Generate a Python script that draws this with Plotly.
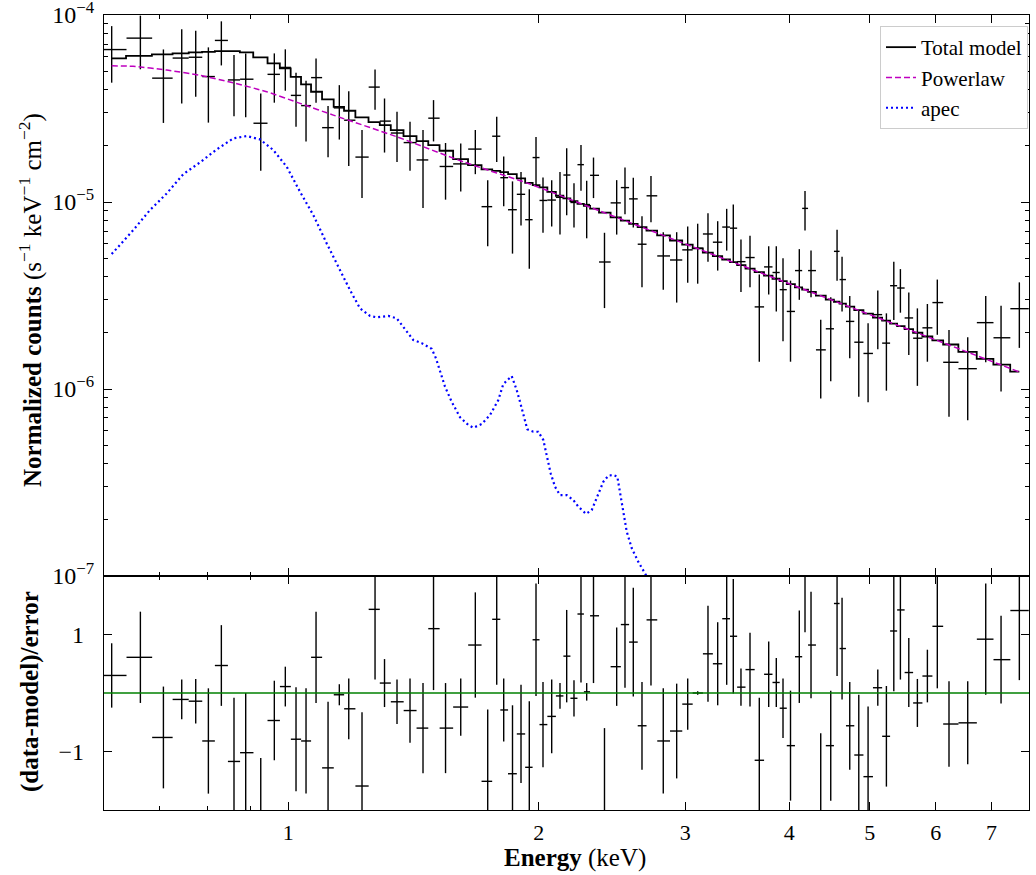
import math
import plotly.graph_objects as go
from plotly.subplots import make_subplots

# ---------------- data ----------------
energy = [0.6133, 0.6640, 0.7077, 0.7445, 0.7739, 0.8015, 0.8308, 0.8604, 0.8887, 0.9265,
          0.9620, 0.9917, 1.0215, 1.0502, 1.0797, 1.1162, 1.1516, 1.1820, 1.2262, 1.2712,
          1.3050, 1.3509, 1.4004, 1.4517, 1.4946, 1.5451, 1.6115, 1.6779, 1.7364, 1.7802,
          1.8150, 1.8597, 1.9040, 1.9482, 1.9847, 2.0235, 2.0728, 2.1209, 2.1606, 2.2047,
          2.2478, 2.2835, 2.3270, 2.3989, 2.4812, 2.5389, 2.5979, 2.6612, 2.7283, 2.8227,
          2.9293, 3.0201, 3.1047, 3.1945, 3.2815, 3.3643, 3.4263, 3.4999, 3.5884, 3.6820,
          3.7791, 3.8594, 3.9317, 4.0142, 4.1132, 4.1786, 4.2487, 4.3644, 4.4870, 4.5661,
          4.6296, 4.7294, 4.8490, 4.9755, 5.1110, 5.2342, 5.3425, 5.4410, 5.5689, 5.7030,
          5.8630, 6.0262, 6.2244, 6.5554, 6.8904, 7.1888, 7.5622]

bin_edges = [0.587, 0.639, 0.686, 0.726, 0.759, 0.788, 0.816, 0.846, 0.875, 0.908,
             0.944, 0.977, 1.007, 1.036, 1.065, 1.098, 1.134, 1.167, 1.204, 1.249,
             1.288, 1.328, 1.376, 1.426, 1.473, 1.520, 1.578, 1.645, 1.707, 1.758,
             1.798, 1.837, 1.882, 1.926, 1.966, 2.004, 2.048, 2.097, 2.141, 2.183,
             2.226, 2.266, 2.305, 2.363, 2.440, 2.510, 2.568, 2.630, 2.695, 2.776,
             2.876, 2.975, 3.062, 3.150, 3.238, 3.323, 3.395, 3.463, 3.544, 3.635,
             3.731, 3.819, 3.896, 3.973, 4.064, 4.146, 4.214, 4.307, 4.426, 4.527,
             4.598, 4.680, 4.789, 4.912, 5.043, 5.173, 5.288, 5.392, 5.505, 5.636,
             5.783, 5.945, 6.125, 6.390, 6.723, 7.040, 7.376, 7.762]

flux = [6.54e-5, 7.53e-5, 4.60e-5, 5.89e-5, 5.95e-5, 4.69e-5, 7.32e-5, 4.50e-5, 4.54e-5, 2.64e-5,
        4.82e-5, 5.25e-5, 3.72e-5, 3.28e-5, 4.63e-5, 2.50e-5, 3.19e-5, 2.74e-5, 1.74e-5, 4.12e-5,
        2.71e-5, 2.34e-5, 2.08e-5, 1.68e-5, 2.81e-5, 1.55e-5, 1.60e-5, 1.92e-5, 0.945e-5, 2.25e-5,
        1.35e-5, 0.91e-5, 1.10e-5, 0.805e-5, 1.73e-5, 1.02e-5, 1.025e-5, 1.06e-5, 1.395e-5, 0.995e-5,
        1.585e-5, 0.97e-5, 1.39e-5, 0.478e-5, 0.99e-5, 1.195e-5, 1.04e-5, 0.595e-5, 1.08e-5, 0.515e-5,
        0.49e-5, 0.555e-5, 0.566e-5, 0.675e-5, 0.61e-5, 0.735e-5, 0.725e-5, 0.48e-5, 0.505e-5, 0.275e-5,
        0.45e-5, 0.42e-5, 0.34e-5, 0.26e-5, 0.43e-5, 0.925e-5, 0.43e-5, 0.162e-5, 0.21e-5, 0.545e-5,
        0.385e-5, 0.23e-5, 0.178e-5, 0.155e-5, 0.25e-5, 0.176e-5, 0.357e-5, 0.347e-5, 0.24e-5, 0.187e-5,
        0.2125e-5, 0.29e-5, 0.139e-5, 0.1285e-5, 0.2265e-5, 0.188e-5, 0.269e-5]

flux_err = [2.19e-5, 2.40e-5, 1.95e-5, 2.52e-5, 2.29e-5, 2.03e-5, 1.94e-5, 1.62e-5, 1.70e-5, 1.17e-5,
            1.42e-5, 1.31e-5, 1.19e-5, 1.17e-5, 1.23e-5, 0.765e-5, 1.03e-5, 1.18e-5, 0.69e-5, 1.0e-5,
            0.87e-5, 0.70e-5, 0.61e-5, 0.75e-5, 0.70e-5, 0.52e-5, 0.46e-5, 0.51e-5, 0.365e-5, 0.61e-5,
            0.40e-5, 0.38e-5, 0.35e-5, 0.365e-5, 0.50e-5, 0.335e-5, 0.285e-5, 0.39e-5, 0.545e-5, 0.265e-5,
            0.435e-5, 0.33e-5, 0.34e-5, 0.207e-5, 0.32e-5, 0.335e-5, 0.31e-5, 0.245e-5, 0.30e-5, 0.175e-5,
            0.20e-5, 0.185e-5, 0.20e-5, 0.195e-5, 0.18e-5, 0.185e-5, 0.245e-5, 0.15e-5, 0.155e-5, 0.135e-5,
            0.13e-5, 0.16e-5, 0.16e-5, 0.12e-5, 0.13e-5, 0.221e-5, 0.12e-5, 0.073e-5, 0.10e-5, 0.165e-5,
            0.125e-5, 0.084e-5, 0.087e-5, 0.07e-5, 0.087e-5, 0.078e-5, 0.123e-5, 0.091e-5, 0.088e-5, 0.083e-5,
            0.0725e-5, 0.095e-5, 0.068e-5, 0.0605e-5, 0.0875e-5, 0.091e-5, 0.103e-5]

model_total = [5.866e-5, 6.058e-5, 6.163e-5, 6.239e-5, 6.316e-5, 6.363e-5, 6.419e-5, 6.419e-5, 6.316e-5, 5.939e-5,
               5.516e-5, 5.188e-5, 4.677e-5, 4.259e-5, 3.890e-5, 3.541e-5, 3.233e-5, 3.078e-5, 2.838e-5, 2.678e-5,
               2.581e-5, 2.427e-5, 2.254e-5, 2.119e-5, 2.017e-5, 1.881e-5, 1.698e-5, 1.577e-5, 1.495e-5, 1.470e-5,
               1.446e-5, 1.411e-5, 1.338e-5, 1.268e-5, 1.233e-5, 1.198e-5, 1.135e-5, 1.081e-5, 1.046e-5, 1.011e-5,
               9.79e-6, 9.53e-6, 9.23e-6, 8.77e-6, 8.28e-6, 7.95e-6, 7.64e-6, 7.34e-6, 7.03e-6, 6.63e-6,
               6.23e-6, 5.92e-6, 5.65e-6, 5.37e-6, 5.14e-6, 4.93e-6, 4.77e-6, 4.60e-6, 4.41e-6, 4.22e-6,
               4.04e-6, 3.89e-6, 3.78e-6, 3.64e-6, 3.50e-6, 3.40e-6, 3.31e-6, 3.16e-6, 3.01e-6, 2.93e-6,
               2.86e-6, 2.76e-6, 2.64e-6, 2.53e-6, 2.41e-6, 2.32e-6, 2.24e-6, 2.17e-6, 2.09e-6, 2.00e-6,
               1.91e-6, 1.82e-6, 1.73e-6, 1.58e-6, 1.45e-6, 1.35e-6, 1.24e-6]

resid = [0.30, 0.61, -0.76, -0.11, -0.14, -0.82, 0.47, -1.17, -1.02, -2.60,
         -0.47, 0.11, -0.79, -0.82, 0.61, -1.28, -0.03, -0.27, -1.59, 1.43,
         0.17, -0.15, -0.30, -0.60, 1.10, -0.60, -0.24, 0.82, -1.51, 1.26,
         -0.29, -1.38, -0.70, -1.27, 0.91, -0.54, -0.40, -0.05, 0.63, -0.09,
         1.35, 0.02, 1.32, -2.07, 0.45, 1.17, 0.87, -0.56, 1.25, -0.82,
         -0.65, -0.19, 0.00, 0.67, 0.50, 1.27, 0.97, 0.10, 0.40, -1.15,
         0.32, 0.18, -0.26, -0.90, 0.62, 2.59, 0.82, -2.14, -0.90, 1.53,
         0.76, -0.56, -1.06, -1.43, 0.09, -0.74, 1.06, 1.42, 0.35, -0.17,
         0.29, 1.14, -0.53, -0.51, 0.92, 0.57, 1.41]

resid_err = [0.55, 0.78, 0.87, 0.34, 0.38, 0.90, 0.69, 1.09, 1.02, 1.49,
             0.68, 0.34, 0.89, 0.90, 0.78, 1.13, 0.18, 0.52, 1.26, 1.20,
             0.41, 0.38, 0.55, 0.77, 1.05, 0.77, 0.49, 0.90, 1.23, 1.12,
             0.54, 1.17, 0.84, 1.13, 0.96, 0.73, 0.63, 0.22, 0.79, 0.31,
             1.17, 0.15, 1.15, 1.47, 0.67, 1.08, 0.93, 0.75, 1.12, 0.90,
             0.81, 0.44, 0.03, 0.82, 0.71, 1.13, 0.98, 0.32, 0.63, 1.07,
             0.56, 0.42, 0.51, 0.94, 0.79, 1.55, 0.91, 1.45, 0.94, 1.24,
             0.87, 0.75, 1.03, 1.20, 0.31, 0.86, 1.03, 1.19, 0.59, 0.41,
             0.45, 1.06, 0.73, 0.71, 0.95, 0.75, 1.19]

pl_energy = [0.6133, 0.6507, 0.7144, 0.7831, 0.8582, 0.9420, 1.0329, 1.1327, 1.3498,
             1.6230, 1.9520, 2.3692, 3.1245, 4.7330, 7.5622]
pl_flux = [5.357e-5, 5.318e-5, 5.080e-5, 4.760e-5, 4.345e-5, 3.890e-5, 3.371e-5, 2.918e-5, 2.235e-5,
           1.642e-5, 1.248e-5, 8.953e-6, 5.572e-6, 2.745e-6, 1.234e-6]

apec_energy = [0.6133, 0.6512, 0.6818, 0.7144, 0.7478, 0.7831, 0.8203, 0.8588, 0.8913, 0.9247,
               0.9593, 0.9956, 1.0329, 1.0716, 1.1120, 1.1537, 1.1862, 1.2196, 1.2538, 1.2773,
               1.3187, 1.3498, 1.3747, 1.4130, 1.4463, 1.4869, 1.5047, 1.5215, 1.5427, 1.5716,
               1.6084, 1.6458, 1.6687, 1.7080, 1.7475, 1.7881, 1.8130, 1.8556, 1.8814, 1.8987,
               1.9198, 1.9374, 1.9699, 1.9974, 2.0252, 2.0444, 2.0671, 2.0919, 2.1209, 2.1606,
               2.2004, 2.2311, 2.2791, 2.3154, 2.3581, 2.3910, 2.4244, 2.4582, 2.4855, 2.5041,
               2.5271, 2.5510, 2.5865, 2.6344, 2.6912, 2.7363]
apec_flux = [5.27e-6, 7.09e-6, 9.06e-6, 1.113e-5, 1.411e-5, 1.630e-5, 1.913e-5, 2.191e-5, 2.254e-5, 2.164e-5,
             1.897e-5, 1.544e-5, 1.135e-5, 8.52e-6, 6.01e-6, 4.29e-6, 3.38e-6, 2.70e-6, 2.46e-6, 2.42e-6,
             2.46e-6, 2.39e-6, 2.15e-6, 1.83e-6, 1.76e-6, 1.64e-6, 1.46e-6, 1.26e-6, 1.03e-6, 8.55e-7,
             7.06e-7, 6.42e-7, 6.21e-7, 6.50e-7, 7.26e-7, 8.73e-7, 1.063e-6, 1.173e-6, 9.88e-7, 8.55e-7,
             6.97e-7, 6.09e-7, 5.91e-7, 5.91e-7, 5.34e-7, 4.34e-7, 3.54e-7, 3.00e-7, 2.71e-7, 2.71e-7,
             2.55e-7, 2.35e-7, 2.15e-7, 2.25e-7, 2.71e-7, 3.19e-7, 3.44e-7, 3.47e-7, 3.40e-7, 2.77e-7,
             2.12e-7, 1.73e-7, 1.41e-7, 1.19e-7, 1.01e-7, 8.4e-8]

x_ticks = [1, 2, 3, 4, 5, 6, 7]
x_minor_ticks = [0.6, 0.7, 0.8, 0.9]
y_ticks = [1e-7, 1e-6, 1e-5, 1e-4]
y_ticktext = ["10<sup>\u22127</sup>", "10<sup>\u22126</sup>", "10<sup>\u22125</sup>", "10<sup>\u22124</sup>"]
res_ticks = [-1, 1]
res_ticktext = ["\u22121", "1"]

# ---------------- derived (from the arrays above) ----------------
x_lo = [e - bin_edges[i] for i, e in enumerate(energy)]
x_hi = [bin_edges[i + 1] - e for i, e in enumerate(energy)]
y_minor = [k * 10.0 ** p for p in (-7, -6, -5) for k in range(2, 10)]

FONT = "Liberation Serif"

fig = make_subplots(rows=2, cols=1, shared_xaxes=True, vertical_spacing=0,
                    row_heights=[561, 234])

# data points
fig.add_trace(go.Scatter(
    x=energy, y=flux, mode="markers",
    marker=dict(size=1, color="rgba(0,0,0,0)"),
    error_x=dict(type="data", symmetric=False, array=x_hi, arrayminus=x_lo,
                 color="black", thickness=1.4, width=0),
    error_y=dict(type="data", array=flux_err, color="black", thickness=1.4, width=0),
    showlegend=False, hoverinfo="skip"), row=1, col=1)

fig.add_trace(go.Scatter(
    x=energy, y=model_total, mode="lines", name="Total model",
    line=dict(color="black", width=1.8, shape="hvh")), row=1, col=1)

fig.add_trace(go.Scatter(
    x=pl_energy, y=pl_flux, mode="lines", name="Powerlaw",
    line=dict(color="#bf00bf", width=1.5, dash="6px,3px", shape="spline", smoothing=0.6)),
    row=1, col=1)

fig.add_trace(go.Scatter(
    x=apec_energy, y=apec_flux, mode="lines", name="apec",
    line=dict(color="#0000ff", width=2.2, dash="2px,3px")), row=1, col=1)

# residuals
fig.add_trace(go.Scatter(
    x=energy, y=resid, mode="markers",
    marker=dict(size=1, color="rgba(0,0,0,0)"),
    error_x=dict(type="data", symmetric=False, array=x_hi, arrayminus=x_lo,
                 color="black", thickness=1.4, width=0),
    error_y=dict(type="data", array=resid_err, color="black", thickness=1.4, width=0),
    showlegend=False, hoverinfo="skip"), row=2, col=1)

fig.add_shape(type="line", xref="x2 domain", yref="y2", x0=0, x1=1, y0=0, y1=0,
              line=dict(color="#008000", width=1.5))

axis_common = dict(showline=True, linecolor="black", linewidth=1.2, mirror="ticks",
                   ticks="inside", ticklen=8, tickwidth=1.2, tickcolor="black",
                   showgrid=False, zeroline=False, ticklabeloverflow="allow",
                   automargin=False)

xr = [math.log10(0.6004), math.log10(7.767)]
for r in (1, 2):
    fig.update_xaxes(type="log", range=xr, tickmode="array", tickvals=x_ticks,
                     ticktext=[str(t) for t in x_ticks],
                     minor=dict(ticks="inside", ticklen=4, tickwidth=1, tickcolor="black",
                                tickmode="array", tickvals=x_minor_ticks),
                     ticklabelstandoff=2,
                     tickfont=dict(family=FONT, size=22, color="black"),
                     row=r, col=1, **axis_common)
fig.update_xaxes(showticklabels=False, row=1, col=1)

fig.update_yaxes(type="log", range=[-7, -3.9995], tickmode="array", tickvals=y_ticks,
                 ticktext=y_ticktext,
                 minor=dict(ticks="inside", ticklen=4, tickwidth=1, tickcolor="black",
                            tickmode="array", tickvals=y_minor),
                 ticklabelstandoff=4,
                 tickfont=dict(family=FONT, size=24, color="black"),
                 row=1, col=1, **axis_common)
fig.update_yaxes(range=[-2, 2], tickmode="array", tickvals=res_ticks, ticktext=res_ticktext,
                 ticklabelstandoff=14,
                 tickfont=dict(family=FONT, size=24, color="black"),
                 row=2, col=1, **axis_common)

# the page's body margin is removed (see post_script), so figure pixels = screenshot pixels
W, H = 1036, 875
L, T, R, B = 104, 15, 7, 65
ph = H - T - B
pw = W - L - R


def px(xs):
    return (xs - L) / pw


def py(ys):
    return (H - B - ys) / ph


annots = [
    dict(text="<b>Normalized counts</b> (s<sup>\u22121</sup> keV<sup>\u22121</sup> cm<sup>\u22122</sup>)",
         x=px(30), y=py(300), textangle=-90),
    dict(text="<b>(data-model)/error</b>", x=px(30), y=py(692), textangle=-90),
    dict(text="<b>Energy</b> (keV)", x=px(575), y=py(858), textangle=0),
]
for a in annots:
    fig.add_annotation(xref="paper", yref="paper", showarrow=False,
                       xanchor="center", yanchor="middle",
                       font=dict(family=FONT, size=25, color="black"), **a)

fig.update_layout(
    width=W, height=H,
    margin=dict(l=L, r=R, t=T, b=B, autoexpand=False),
    paper_bgcolor="white", plot_bgcolor="white",
    font=dict(family=FONT, color="black"),
    legend=dict(x=px(1028), y=py(26), xanchor="right", yanchor="top",
                bgcolor="white", bordercolor="#cccccc", borderwidth=1,
                font=dict(family=FONT, size=21, color="black")),
)

fig.write_html("out.html",
               config={"displayModeBar": False},
               post_script="document.body.style.margin='0px';document.body.style.overflow='hidden';")
